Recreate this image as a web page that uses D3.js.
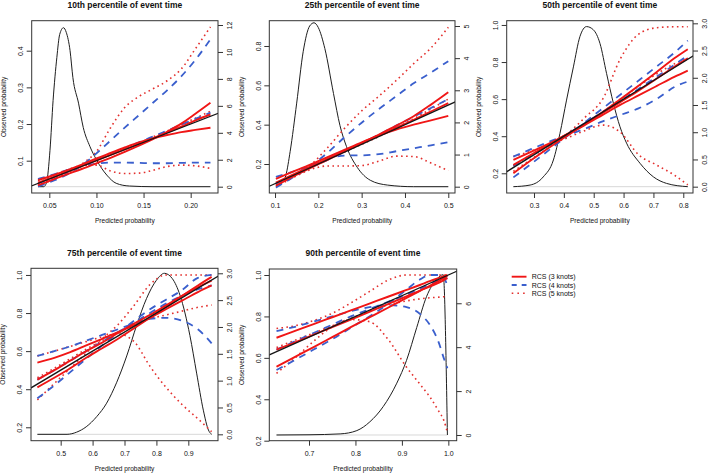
<!DOCTYPE html>
<html><head><meta charset="utf-8">
<script src="https://cdn.jsdelivr.net/npm/d3@7"></script>
<style>
body{margin:0;background:#fff}
svg{display:block}
text{font-family:"Liberation Sans",Arial,Helvetica,sans-serif;fill:#111}
</style>
</head><body>
<svg id="c" width="709" height="474"></svg>
<script>
// ---------------- data ----------------
const titles = ["10th percentile of event time","25th percentile of event time","50th percentile of event time","75th percentile of event time","90th percentile of event time"];
const legendLabels = ["RCS (3 knots)","RCS (4 knots)","RCS (5 knots)"];

// 10th percentile
const p10X = [0.038,0.055,0.07,0.085,0.10,0.115,0.13,0.145,0.16,0.175,0.19,0.205,0.221];
const p10Rcs3 = [
  [0.033,0.050,0.064,0.078,0.093,0.108,0.124,0.141,0.159,0.179,0.201,0.228,0.258],
  [0.047,0.061,0.075,0.090,0.106,0.121,0.136,0.150,0.161,0.170,0.178,0.184,0.190],
  [0.040,0.056,0.071,0.086,0.101,0.116,0.131,0.146,0.161,0.177,0.193,0.210,0.226]];
const p10Rcs4 = [
  [0.030,0.046,0.064,0.088,0.120,0.155,0.190,0.224,0.258,0.292,0.330,0.375,0.431],
  [0.050,0.063,0.075,0.086,0.092,0.095,0.095,0.094,0.093,0.093,0.094,0.095,0.095],
  [0.038,0.055,0.070,0.086,0.102,0.118,0.134,0.150,0.166,0.182,0.198,0.214,0.231]];
const p10Rcs5 = [
  [0.030,0.050,0.068,0.092,0.125,0.190,0.245,0.275,0.296,0.318,0.350,0.405,0.465],
  [0.045,0.062,0.076,0.087,0.088,0.072,0.065,0.066,0.074,0.084,0.088,0.086,0.079],
  [0.037,0.054,0.069,0.085,0.101,0.117,0.133,0.149,0.165,0.181,0.198,0.216,0.235]];
const p10DensX = [0.038,0.044,0.047,0.0507,0.054,0.058,0.061,0.065,0.068,0.072,0.075,0.081,0.086,0.093,0.10,0.111,0.121,0.135,0.16,0.221];
const p10DensY = [0,0,0.3,2.7,6.4,9.6,11.3,11.8,11.45,10.1,8.1,6.2,4.4,3.0,2.0,0.86,0.25,0.05,0,0];
const p10XTicks = [0.05,0.10,0.15,0.20];
const p10YTicks = [0.1,0.2,0.3,0.4];
const p10RTicks = [0,2,4,6,8,10,12];

// 25th percentile
const p25X = [0.102,0.14,0.18,0.22,0.26,0.30,0.34,0.38,0.42,0.46,0.50];
const p25Rcs3 = [
  [0.090,0.135,0.178,0.220,0.263,0.306,0.350,0.395,0.443,0.502,0.565],
  [0.125,0.160,0.196,0.234,0.272,0.310,0.345,0.375,0.400,0.422,0.445],
  [0.105,0.145,0.185,0.225,0.265,0.305,0.345,0.385,0.425,0.467,0.510]];
const p25Rcs4 = [
  [0.080,0.130,0.185,0.255,0.335,0.410,0.480,0.545,0.610,0.665,0.723],
  [0.135,0.160,0.190,0.225,0.243,0.244,0.250,0.265,0.280,0.295,0.311],
  [0.100,0.140,0.180,0.220,0.262,0.305,0.350,0.395,0.440,0.485,0.530]];
const p25Rcs5 = [
  [0.085,0.130,0.190,0.280,0.380,0.470,0.545,0.625,0.710,0.790,0.895],
  [0.097,0.130,0.170,0.190,0.190,0.192,0.215,0.240,0.238,0.205,0.166],
  [0.100,0.140,0.180,0.220,0.260,0.300,0.340,0.385,0.430,0.480,0.530]];
const p25DensX = [0.102,0.115,0.125,0.135,0.15,0.165,0.18,0.19,0.2,0.215,0.235,0.25,0.265,0.29,0.32,0.36,0.42,0.5];
const p25DensY = [0.05,0.1,0.35,1.1,2.6,4.2,5.0,5.1,4.95,4.3,2.9,1.9,1.25,0.6,0.2,0.05,0,0];
const p25XTicks = [0.1,0.2,0.3,0.4,0.5];
const p25YTicks = [0.2,0.4,0.6,0.8];
const p25RTicks = [0,1,2,3,4,5];

// 50th percentile
const p50X = [0.231,0.29,0.35,0.41,0.47,0.53,0.59,0.65,0.71,0.77,0.815];
const p50Rcs3 = [
  [0.200,0.270,0.338,0.402,0.465,0.530,0.600,0.672,0.745,0.820,0.869],
  [0.272,0.315,0.360,0.410,0.460,0.515,0.570,0.620,0.670,0.720,0.754],
  [0.245,0.300,0.355,0.410,0.465,0.525,0.585,0.645,0.710,0.775,0.820]];
const p50Rcs4 = [
  [0.178,0.250,0.325,0.400,0.475,0.550,0.625,0.700,0.775,0.850,0.916],
  [0.290,0.330,0.370,0.405,0.440,0.480,0.515,0.550,0.600,0.665,0.695],
  [0.240,0.295,0.350,0.410,0.470,0.530,0.590,0.655,0.720,0.785,0.835]];
const p50Rcs5 = [
  [0.210,0.275,0.340,0.410,0.500,0.600,0.820,0.950,0.985,0.990,0.990],
  [0.290,0.320,0.355,0.390,0.430,0.460,0.420,0.300,0.245,0.190,0.137],
  [0.240,0.300,0.355,0.410,0.470,0.530,0.600,0.670,0.735,0.790,0.820]];
const p50DensX = [0.231,0.287,0.331,0.365,0.387,0.409,0.432,0.454,0.476,0.499,0.521,0.543,0.566,0.588,0.61,0.655,0.7,0.744,0.815];
const p50DensY = [0,0.03,0.18,0.49,0.98,1.59,2.2,2.76,2.94,2.88,2.63,2.08,1.53,1.1,0.8,0.43,0.18,0.06,0];
const p50XTicks = [0.3,0.4,0.5,0.6,0.7,0.8];
const p50YTicks = [0.2,0.4,0.6,0.8,1.0];
const p50RTicks = [0,0.5,1,1.5,2,2.5,3];

// 75th percentile
const p75X = [0.427,0.48,0.53,0.58,0.63,0.68,0.73,0.78,0.83,0.88,0.93,0.973];
const p75Rcs3 = [
  [0.410,0.460,0.510,0.565,0.615,0.665,0.720,0.775,0.830,0.890,0.945,0.990],
  [0.540,0.565,0.595,0.630,0.665,0.700,0.735,0.775,0.820,0.865,0.910,0.945],
  [0.450,0.500,0.550,0.600,0.645,0.695,0.745,0.790,0.840,0.890,0.935,0.970]];
const p75Rcs4 = [
  [0.352,0.420,0.490,0.560,0.630,0.695,0.760,0.820,0.870,0.920,0.985,1.000],
  [0.575,0.600,0.625,0.655,0.685,0.715,0.745,0.770,0.775,0.760,0.715,0.641],
  [0.450,0.500,0.550,0.600,0.650,0.700,0.750,0.800,0.850,0.890,0.925,0.945]];
const p75Rcs5 = [
  [0.344,0.430,0.510,0.590,0.665,0.740,0.840,0.950,1.000,1.000,1.000,1.000],
  [0.575,0.600,0.625,0.650,0.675,0.690,0.650,0.520,0.410,0.320,0.245,0.177],
  [0.460,0.510,0.560,0.610,0.655,0.700,0.740,0.770,0.790,0.810,0.830,0.842]];
const p75DensX = [0.427,0.52,0.55,0.58,0.613,0.644,0.675,0.707,0.738,0.769,0.8,0.825,0.85,0.874,0.905,0.926,0.947,0.963,0.973];
const p75DensY = [0,0,0.04,0.14,0.33,0.58,0.96,1.46,2.03,2.53,2.87,3.0,2.9,2.59,1.84,1.14,0.45,0.08,0];
const p75XTicks = [0.5,0.6,0.7,0.8,0.9];
const p75YTicks = [0.2,0.4,0.6,0.8,1.0];
const p75RTicks = [0,0.5,1,1.5,2,2.5,3];

// 90th percentile
const p90X = [0.63,0.67,0.71,0.75,0.79,0.83,0.87,0.91,0.94,0.96,0.98,0.99,0.998];
const p90Rcs3 = [
  [0.557,0.605,0.652,0.700,0.748,0.795,0.842,0.890,0.925,0.948,0.972,0.985,0.995],
  [0.697,0.730,0.763,0.796,0.829,0.862,0.895,0.928,0.953,0.970,0.986,0.994,1.000],
  [0.640,0.675,0.712,0.748,0.785,0.822,0.860,0.897,0.926,0.944,0.963,0.975,0.985]];
const p90Rcs4 = [
  [0.541,0.590,0.640,0.690,0.745,0.800,0.860,0.930,0.980,1.000,1.000,0.990,0.945],
  [0.729,0.750,0.775,0.800,0.825,0.845,0.855,0.845,0.810,0.760,0.670,0.600,0.550],
  [0.640,0.680,0.720,0.760,0.800,0.835,0.870,0.905,0.935,0.955,0.975,0.980,0.985]];
const p90Rcs5 = [
  [0.742,0.755,0.780,0.815,0.865,0.920,0.975,1.000,1.000,1.000,1.000,1.000,1.000],
  [0.525,0.600,0.680,0.750,0.785,0.775,0.690,0.555,0.470,0.412,0.340,0.300,0.240],
  [0.650,0.685,0.720,0.755,0.790,0.825,0.855,0.875,0.885,0.890,0.893,0.895,0.895]];
const p90DensX = [0.63,0.7,0.767,0.803,0.831,0.86,0.889,0.91,0.932,0.953,0.975,0.989,0.998];
const p90DensY = [0,0.01,0.05,0.2,0.6,1.3,2.36,3.4,4.9,6.3,7.1,7.3,0];
const p90XTicks = [0.7,0.8,0.9,1.0];
const p90YTicks = [0.2,0.4,0.6,0.8,1.0];
const p90RTicks = [0,2,4,6];

// ---------------- layout ----------------
const panels = [
  {X:p10X,r3:p10Rcs3,r4:p10Rcs4,r5:p10Rcs5,dx:p10DensX,dy:p10DensY,xt:p10XTicks,yt:p10YTicks,rt:p10RTicks,
   fx:".2f",fy:".1f",fr:"d", box:[31.7,218,20.7,193], xd:[0.0313,0.229], yd:[0.0119,0.4818], rd:[-0.468,12.32]},
  {X:p25X,r3:p25Rcs3,r4:p25Rcs4,r5:p25Rcs5,dx:p25DensX,dy:p25DensY,xt:p25XTicks,yt:p25YTicks,rt:p25RTicks,
   fx:".1f",fy:".1f",fr:"d", box:[269.3,455,20.7,193], xd:[0.0868,0.5155], yd:[0.0526,0.9286], rd:[-0.196,5.165]},
  {X:p50X,r3:p50Rcs3,r4:p50Rcs4,r5:p50Rcs5,dx:p50DensX,dy:p50DensY,xt:p50XTicks,yt:p50YTicks,rt:p50RTicks,
   fx:".1f",fy:".1f",fr:".1f", box:[506.7,693,20.7,193], xd:[0.2086,0.8325], yd:[0.0937,1.023], rd:[-0.116,3.048]},
  {X:p75X,r3:p75Rcs3,r4:p75Rcs4,r5:p75Rcs5,dx:p75DensX,dy:p75DensY,xt:p75XTicks,yt:p75YTicks,rt:p75RTicks,
   fx:".1f",fy:".1f",fr:".1f", box:[31,218,268.3,440.7], xd:[0.407,0.993], yd:[0.1296,1.035], rd:[-0.119,3.093]},
  {X:p90X,r3:p90Rcs3,r4:p90Rcs4,r5:p90Rcs5,dx:p90DensX,dy:p90DensY,xt:p90XTicks,yt:p90YTicks,rt:p90RTicks,
   fx:".1f",fy:".1f",fr:"d", box:[269.3,456.7,269,440.7], xd:[0.6145,1.018], yd:[0.2,1.029], rd:[-0.26,7.56]}
];

const RED = "#f01616", BLUE = "#3a5fcd", DOT = "#e3302e";
const styles = {
  r3:{stroke:RED, w:1.9, dash:null, legDash:null},
  r4:{stroke:BLUE, w:1.8, dash:"7,6", legDash:"5,5"},
  r5:{stroke:DOT, w:1.6, dash:"1.6,3.4", legDash:"1.6,4.1"}
};

const svg = d3.select("#c");
const defs = svg.append("defs");

panels.forEach((P, i) => {
  const [x0, x1, y0, y1] = P.box;
  const x = d3.scaleLinear().domain(P.xd).range([x0, x1]);
  const yl = d3.scaleLinear().domain(P.yd).range([y1, y0]);
  const yr = d3.scaleLinear().domain(P.rd).range([y1, y0]);

  defs.append("clipPath").attr("id", "clip" + i)
    .append("rect").attr("x", x0).attr("y", y0).attr("width", x1 - x0).attr("height", y1 - y0);

  const g = svg.append("g");
  const plot = g.append("g").attr("clip-path", `url(#clip${i})`);

  // faint baseline of density
  plot.append("line")
    .attr("x1", x(P.dx[0])).attr("x2", x(P.dx[P.dx.length - 1]))
    .attr("y1", yr(0)).attr("y2", yr(0))
    .attr("stroke", "#d8d8d8").attr("stroke-width", 1);

  // density
  const dline = d3.line().x((d, j) => x(P.dx[j])).y(d => yr(d)).curve(d3.curveMonotoneX);
  plot.append("path").attr("d", dline(P.dy))
    .attr("fill", "none").attr("stroke", "#1e1e1e").attr("stroke-width", 1);

  // calibration curves
  const cline = d3.line().x((d, j) => x(P.X[j])).y(d => yl(d)).curve(d3.curveMonotoneX);
  ["r5", "r4", "r3"].forEach(k => {
    const s = styles[k];
    P[k].forEach(arr => {
      plot.append("path").attr("d", cline(arr))
        .attr("fill", "none").attr("stroke", s.stroke).attr("stroke-width", s.w)
        .attr("stroke-dasharray", s.dash);
    });
  });

  // diagonal y = x
  const lo = Math.min(P.xd[0], P.yd[0]) - 0.1, hi = Math.max(P.xd[1], P.yd[1]) + 0.1;
  plot.append("line")
    .attr("x1", x(lo)).attr("y1", yl(lo)).attr("x2", x(hi)).attr("y2", yl(hi))
    .attr("stroke", "#151515").attr("stroke-width", 1.3);

  // box
  g.append("rect").attr("x", x0).attr("y", y0).attr("width", x1 - x0).attr("height", y1 - y0)
    .attr("fill", "none").attr("stroke", "#333").attr("stroke-width", 1);

  // axes
  const fs = 7;
  const ax = g.append("g").attr("transform", `translate(0,${y1})`)
    .call(d3.axisBottom(x).tickValues(P.xt).tickFormat(d3.format(P.fx)).tickSize(5).tickSizeOuter(0));
  ax.select(".domain").remove();
  ax.selectAll("text").attr("y", 15.2).attr("dy", 0).attr("font-size", fs);

  const al = g.append("g").attr("transform", `translate(${x0},0)`)
    .call(d3.axisLeft(yl).tickValues(P.yt).tickFormat(d3.format(P.fy)).tickSize(5).tickSizeOuter(0));
  al.select(".domain").remove();
  al.selectAll("text").attr("transform", "rotate(-90)").attr("x", 0).attr("y", -8.6).attr("dy", 0)
    .attr("text-anchor", "middle").attr("font-size", fs);

  const ar = g.append("g").attr("transform", `translate(${x1},0)`)
    .call(d3.axisRight(yr).tickValues(P.rt).tickFormat(d3.format(P.fr)).tickSize(5).tickSizeOuter(0));
  ar.select(".domain").remove();
  ar.selectAll("text").attr("transform", "rotate(-90)").attr("x", 0).attr("y", 14.2).attr("dy", 0)
    .attr("text-anchor", "middle").attr("font-size", fs);

  [ax, al, ar].forEach(a => { a.selectAll("line").attr("stroke", "#333"); a.attr("font-family", null); });

  // titles and labels
  g.append("text").attr("x", (x0 + x1) / 2).attr("y", y0 - 12.8)
    .attr("text-anchor", "middle").attr("font-size", 8.5).attr("font-weight", "bold").text(titles[i]);
  g.append("text").attr("x", (x0 + x1) / 2).attr("y", y1 + 30.3)
    .attr("text-anchor", "middle").attr("font-size", 6.6).text("Predicted probability");
  g.append("text").attr("transform", `translate(${x0 - 25.7},${(y0 + y1) / 2}) rotate(-90)`)
    .attr("text-anchor", "middle").attr("font-size", 6.6).text("Observed probability");
});

// legend
const legY = [276.7, 285, 293.3];
const legKeys = ["r3", "r4", "r5"];
const leg = svg.append("g");
legKeys.forEach((k, j) => {
  const s = styles[k];
  leg.append("line").attr("x1", 511.7).attr("x2", 526.5).attr("y1", legY[j]).attr("y2", legY[j])
    .attr("stroke", s.stroke).attr("stroke-width", s.w)
    .attr("stroke-dasharray", s.legDash);
  leg.append("text").attr("x", 531.7).attr("y", legY[j] + 2.5).attr("font-size", 7).text(legendLabels[j]);
});
</script>
</body></html>
